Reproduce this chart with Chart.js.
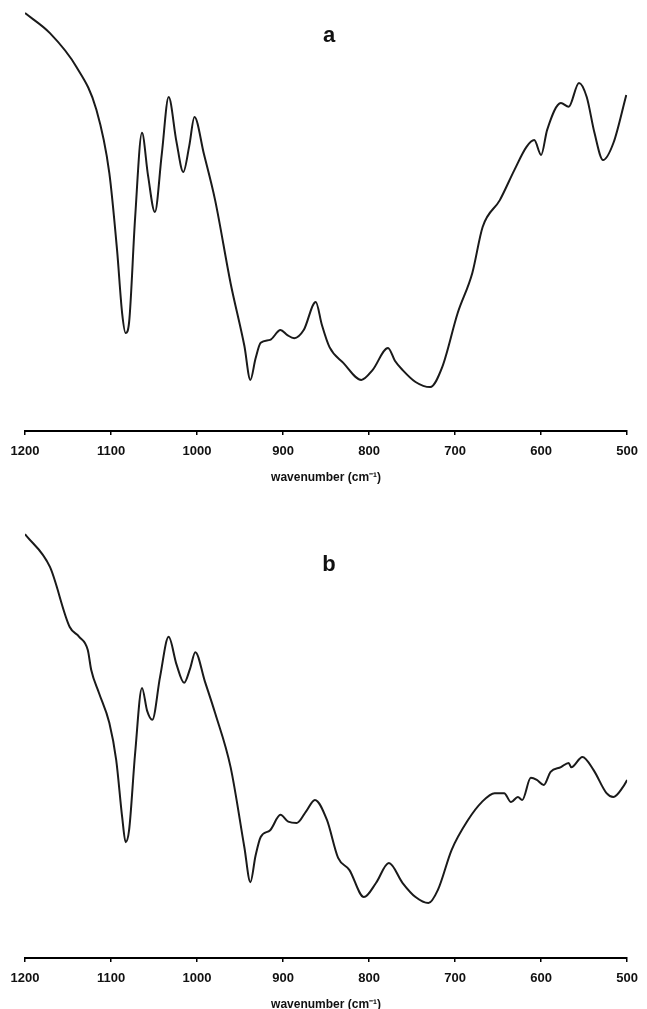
<!DOCTYPE html>
<html>
<head>
<meta charset="utf-8">
<script src="https://cdn.jsdelivr.net/npm/chart.js@4.4.1/dist/chart.umd.min.js"></script>
<style>
  body { margin: 0; background: #fff; overflow: hidden; }
  #wrap { position: relative; width: 647px; height: 1009px; overflow: hidden; }
  canvas { position: absolute; left: 0; }
  .tag { position: absolute; font: bold 22px "Liberation Sans", Arial, sans-serif; line-height: 1; color: #111; transform: translate(-50%, -50%); }
</style>
</head>
<body>
<div id="wrap">
  <canvas id="chartA" width="647" height="485" style="top:0"></canvas>
  <canvas id="chartB" width="647" height="485" style="top:527px"></canvas>
  <div class="tag" style="left:329px; top:35px">a</div>
  <div class="tag" style="left:329px; top:564px">b</div>
</div>
<script>
// x axis ticks (wavenumber, cm-1)
const xTicks = [1200, 1100, 1000, 900, 800, 700, 600, 500];

// spectrum a (relative transmittance, a.u.)
const waveA = [1200, 1171, 1140, 1117, 1102, 1093, 1087, 1083, 1079, 1072, 1064, 1057, 1049, 1041,
    1033, 1024, 1016, 1009, 1003, 992, 979, 961, 945, 938, 932, 926, 915, 903, 895, 887, 876, 862,
    855, 846, 830, 809, 796, 778, 770, 761, 746, 729, 715, 697, 680, 668, 648, 631, 617, 608, 600,
    593, 577, 568, 556, 547, 538, 528, 516, 501];
const signalA = [98.1, 93.4, 85.4, 75.4, 60.6, 42.5, 27.5, 23.0, 25.5, 50.0, 70.0, 60.0, 51.4, 65.0,
    78.4, 68.0, 60.8, 67.0, 73.7, 65.0, 54.2, 34.7, 20.0, 12.0, 17.0, 20.7, 21.4, 23.7, 22.5, 21.8, 23.7, 30.3,
    25.0, 19.7, 16.0, 12.0, 14.3, 19.5, 16.5, 14.3, 11.5, 10.3, 15.0, 27.7, 37.1, 47.9, 54.2, 61.3, 66.7, 68.3, 64.8,
    70.7, 77.0, 76.1, 81.7, 78.4, 70.0, 63.6, 67.6, 78.9];

// spectrum b
const waveB = [1200, 1171, 1148, 1137, 1127, 1123, 1114, 1102, 1094, 1087, 1083, 1079, 1072, 1064,
    1058, 1052, 1043, 1033, 1024, 1015, 1008, 1002, 991, 979, 961, 945, 938, 932, 926, 915, 903, 894,
    884, 873, 863, 849, 836, 823, 806, 792, 777, 761, 746, 731, 720, 704, 685, 669, 654, 643, 635,
    627, 622, 612, 605, 597, 589, 577, 568, 565, 552, 539, 524, 516, 505, 500];
const signalB = [99.5, 91.8, 77.7, 75.4, 72.3, 67.6, 62.2, 55.2, 46.5, 33.0, 27.2, 30.0, 48.0, 63.4,
    58.0, 55.9, 66.0, 75.4, 69.0, 64.6, 68.0, 71.8, 65.0, 57.5, 44.8, 26.0, 17.8, 24.0, 28.4, 30.0, 33.6, 32.0,
    31.7, 34.5, 37.1, 32.4, 23.5, 20.7, 14.3, 17.6, 22.3, 17.6, 14.3, 12.9, 16.0, 25.4, 32.4, 36.6, 38.7, 38.7, 36.6,
    37.8, 37.1, 42.3, 41.8, 40.6, 43.7, 44.8, 45.8, 44.8, 47.2, 44.1, 38.7, 37.8, 40.1, 41.8];

const axisFont = { family: '"Liberation Sans", Arial, sans-serif', size: 13, weight: 'bold' };

function drawSpectrum(canvasId, waves, values) {
    const ctx = document.getElementById(canvasId).getContext('2d');
    new Chart(ctx, {
        type: 'line',
        data: {
            datasets: [{
                data: waves.map((w, i) => ({ x: w, y: values[i] })),
                borderColor: '#1a1a1a',
                borderWidth: 2,
                pointRadius: 0,
                cubicInterpolationMode: 'monotone',
                fill: false
            }]
        },
        options: {
            responsive: false,
            animation: false,
            layout: { padding: { left: 25, right: 13, top: 5, bottom: 0 } },
            plugins: {
                legend: { display: false },
                tooltip: { enabled: false }
            },
            scales: {
                x: {
                    type: 'linear',
                    reverse: true,
                    min: 500,
                    max: 1200,
                    afterBuildTicks: axis => {
                        axis.ticks = xTicks.map(v => ({ value: v }));
                    },
                    ticks: {
                        color: '#111',
                        font: axisFont,
                        padding: 9,
                        maxRotation: 0,
                        callback: v => String(v)
                    },
                    grid: {
                        drawOnChartArea: false,
                        drawTicks: true,
                        tickLength: 4,
                        color: '#000',
                        lineWidth: 1.5
                    },
                    border: { display: true, color: '#000', width: 2 },
                    title: {
                        display: true,
                        text: 'wavenumber (cm⁻¹)',
                        color: '#111',
                        font: { family: '"Liberation Sans", Arial, sans-serif', size: 12, weight: 'bold' },
                        padding: { top: 2, bottom: 0 }
                    }
                },
                y: {
                    display: false,
                    min: 0,
                    max: 100
                }
            }
        }
    });
}

window.addEventListener('DOMContentLoaded', () => {
    drawSpectrum('chartA', waveA, signalA);
    drawSpectrum('chartB', waveB, signalB);
});
</script>
</body>
</html>
